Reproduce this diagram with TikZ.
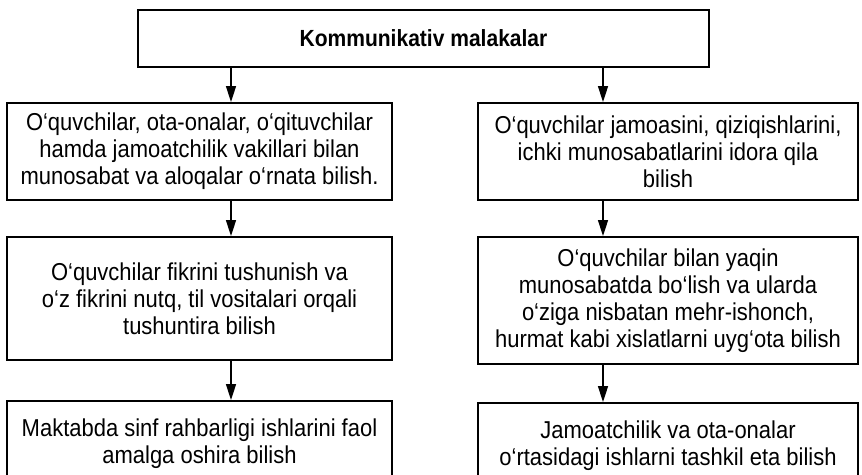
\documentclass[tikz,border=0pt]{standalone}
\usepackage{fontspec}
\setmainfont{Liberation Sans}[FakeStretch=0.9]
\usetikzlibrary{arrows.meta}

\begin{document}
\begin{tikzpicture}[x=0.02cm,y=-0.02cm,
  blok/.style={draw,line width=1.1pt,align=center,inner sep=0pt,font=\fontsize{13.9}{15.4}\selectfont},
  strelka/.style={line width=0.9pt,-{Triangle[length=9pt,width=5.6pt]}}]

\path[use as bounding box,clip] (0,0) rectangle (862,475);

\coordinate (chap) at (231,0);
\coordinate (ong) at (603,0);

\node[blok,minimum width=11.42cm,minimum height=1.14cm,font=\bfseries\fontsize{13.3}{15.4}\selectfont] (bosh) at (423.5,38.5) {Kommunikativ malakalar};

\node[blok,minimum width=7.7cm,minimum height=1.94cm] (l1) at (199.5,151.5) {O‘quvchilar, ota-onalar, o‘qituvchilar\\hamda jamoatchilik vakillari bilan\\munosabat va aloqalar o‘rnata bilish.};
\node[blok,minimum width=7.7cm,minimum height=2.46cm] (l2) at (199.5,298.5) {O‘quvchilar fikrini tushunish va\\o‘z fikrini nutq, til vositalari orqali\\tushuntira bilish};
\node[blok,minimum width=7.7cm,minimum height=1.7cm] (l3) at (199.5,443.5) {Maktabda sinf rahbarligi ishlarini faol\\amalga oshira bilish};

\node[blok,minimum width=7.6cm,minimum height=1.94cm] (r1) at (668,151.5) {O‘quvchilar jamoasini, qiziqishlarini,\\ichki munosabatlarini idora qila\\bilish};
\node[blok,minimum width=7.6cm,minimum height=2.54cm] (r2) at (668,300.5) {O‘quvchilar bilan yaqin\\munosabatda bo‘lish va ularda\\o‘ziga nisbatan mehr-ishonch,\\hurmat kabi xislatlarni uyg‘ota bilish};
\node[blok,minimum width=7.6cm,minimum height=1.7cm] (r3) at (668,445.5) {Jamoatchilik va ota-onalar\\o‘rtasidagi ishlarni tashkil eta bilish};

\draw[strelka] (bosh.south -| chap) -- (l1.north -| chap);
\draw[strelka] (l1.south -| chap) -- (l2.north -| chap);
\draw[strelka] (l2.south -| chap) -- (l3.north -| chap);

\draw[strelka] (bosh.south -| ong) -- (r1.north -| ong);
\draw[strelka] (r1.south -| ong) -- (r2.north -| ong);
\draw[strelka] (r2.south -| ong) -- (r3.north -| ong);
\end{tikzpicture}
\end{document}
